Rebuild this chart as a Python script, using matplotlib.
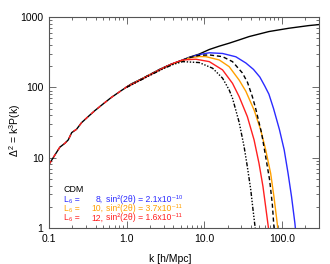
import matplotlib
matplotlib.use("Agg")
import matplotlib.pyplot as plt
from matplotlib.ticker import FixedLocator, NullFormatter, LogLocator

plt.rcParams['font.family'] = ['Liberation Sans', 'DejaVu Sans']
plt.rcParams['mathtext.fontset'] = 'custom'
plt.rcParams['mathtext.rm'] = 'Liberation Sans'
plt.rcParams['mathtext.it'] = 'Liberation Sans'

# CDM
cdm_k = [0.1, 0.119, 0.138, 0.16, 0.177, 0.196, 0.226, 0.263, 0.319, 0.389, 0.497, 0.637,
         0.855, 1.15, 1.5, 2.0, 2.65, 3.56, 4.77, 6.43, 8.6, 11.6, 15.6, 20.9, 28.1, 37.8,
         68, 123, 222, 300]
cdm_d = [8.0, 10.9, 14.1, 16.0, 17.9, 22.7, 25.3, 31.5, 38.3, 46.6, 58, 72,
         90, 112, 129, 152, 180, 208, 235, 268, 297, 345, 385, 424, 472, 527,
         621, 692, 755, 780]

# L6 = 8 (blue)
blue_k = [1.0, 2.0, 3.56, 4.77, 6.43, 8.6, 11.6, 17.2, 25.5, 34.3, 43, 52, 60, 68, 78, 93,
          107, 120, 133, 147, 152]
blue_d = [101, 152, 208, 234, 265, 292, 310, 303, 272, 222, 180, 140, 105, 80, 50, 25,
          12.9, 6.0, 2.8, 1.17, 0.8]

# L6 = 10 (orange)
orange_k = [1.0, 2.0, 3.56, 4.77, 6.43, 8.6, 10.5, 15.6, 20.9, 28.1, 34.3, 43.8, 53.3, 61.8,
            71.6, 78.9, 87, 90]
orange_d = [101, 152, 207, 232, 262, 274, 273, 245, 197, 127, 88, 47.7, 24.8, 12.9,
            6.0, 2.8, 1.17, 0.8]

# dashed black
dash_k = [1.0, 2.0, 3.56, 4.77, 6.43, 8.6, 11.6, 17.2, 23.1, 31, 36, 41.6, 45.9, 54.8, 61.8,
          69.5, 75.2, 78.9, 82]
dash_d = [101, 152, 208, 234, 264, 285, 289, 273, 232, 160, 118, 74, 50, 22.2, 10.3,
          4.8, 2.2, 1.04, 0.7]

# L6 = 12 (red)
red_k = [1.0, 2.0, 3.0, 4.0, 5.27, 7.8, 11.6, 17.2, 23.1, 28.1, 35.9, 43.8, 50.7, 57, 61.8,
         66.8, 70]
red_d = [101, 150, 190, 220, 245, 251, 232, 177, 114, 74, 38.3, 17.9, 8.3, 3.9, 2.0,
         1.04, 0.7]

# dash-dot black
dd_k = [1.0, 2.0, 3.0, 4.0, 5.27, 8.6, 12.8, 17.2, 20.9, 23.1, 28.1, 32.6, 35.9, 39.7, 42.5,
        45.1, 47]
dd_d = [100, 148, 185, 212, 232, 225, 187, 135, 92, 70, 32, 14.3, 7.4, 3.5, 1.8,
        1.04, 0.7]

x_ticks = [0.1, 1.0, 10.0, 100.0]
x_labels = ["0.1", "1.0", "10.0", "100.0"]
y_ticks = [1, 10, 100, 1000]
y_labels = ["1", "10", "100", "1000"]

legend_nums = ["8,", "10,", "12,"]
legend_mix = ["2.1x10\u207b\u00b9\u2070", "3.7x10\u207b\u00b9\u00b9", "1.6x10\u207b\u00b9\u00b9"]
legend_colors = ["#2b2bff", "#ffa000", "#ff2020"]

fig = plt.figure(figsize=(3.3, 2.64), dpi=100)
ax = fig.add_axes([0.1485, 0.1364, 0.818, 0.7992])

lw = 1.0
ax.plot(cdm_k, cdm_d, color="black", lw=lw)
ax.plot(blue_k, blue_d, color=legend_colors[0], lw=lw)
ax.plot(orange_k, orange_d, color=legend_colors[1], lw=lw)
ax.plot(dash_k, dash_d, color="black", lw=lw, linestyle=(0, (3, 2)))
ax.plot(red_k, red_d, color=legend_colors[2], lw=lw)
ax.plot(cdm_k[:14], cdm_d[:14], color=legend_colors[2], lw=lw, linestyle=(0, (3, 3)))
ax.plot(dd_k, dd_d, color="black", lw=lw, linestyle=(0, (3, 1.2, 1, 1.2, 1, 1.2, 1, 1.2)))

ax.set_xscale("log")
ax.set_yscale("log")
ax.set_xlim(0.1, 300)
ax.set_ylim(1, 1000)

ax.xaxis.set_major_locator(FixedLocator(x_ticks))
ax.set_xticklabels(x_labels)
ax.yaxis.set_major_locator(FixedLocator(y_ticks))
ax.set_yticklabels(y_labels)
ax.xaxis.set_minor_locator(LogLocator(base=10, subs=range(2, 10), numticks=20))
ax.yaxis.set_minor_locator(LogLocator(base=10, subs=range(2, 10), numticks=20))
ax.xaxis.set_minor_formatter(NullFormatter())
ax.yaxis.set_minor_formatter(NullFormatter())

ax.tick_params(which="both", direction="in", top=True, right=True, labelsize=7.5,
               color="#555555", width=0.6)
ax.tick_params(which="major", length=5, pad=4)
ax.tick_params(which="minor", length=2.5)
for s in ax.spines.values():
    s.set_color("#555555")
    s.set_linewidth(0.8)

ax.set_xlabel("k [h/Mpc]", fontsize=7.5)
ax.xaxis.set_label_coords((170 - 49) / 270, -(254 - 228) / 211)
ax.set_ylabel("$\\Delta^2$ = k$^3$P(k)", fontsize=7.5)
ax.yaxis.set_label_coords(-(49 - 23) / 270, (228 - 130) / 211)

fs = 6.2
fig.text(64 / 330, (264 - 189) / 264, "CDM", fontsize=fs + 0.2, color="black",
         va="center", ha="left")
for i in range(3):
    yy = (264 - (199.5 + 9.2 * i)) / 264
    c = legend_colors[i]
    fig.text(64 / 330, yy, "L\u2086 =", fontsize=fs, color=c, va="center", ha="left")
    fig.text(103 / 330, yy, legend_nums[i], fontsize=fs, color=c, va="center", ha="right")
    fig.text(106 / 330, yy, "sin\u00b2(2\u03b8) = " + legend_mix[i], fontsize=fs,
             color=c, va="center", ha="left")

fig.savefig("out.png", dpi=100)
